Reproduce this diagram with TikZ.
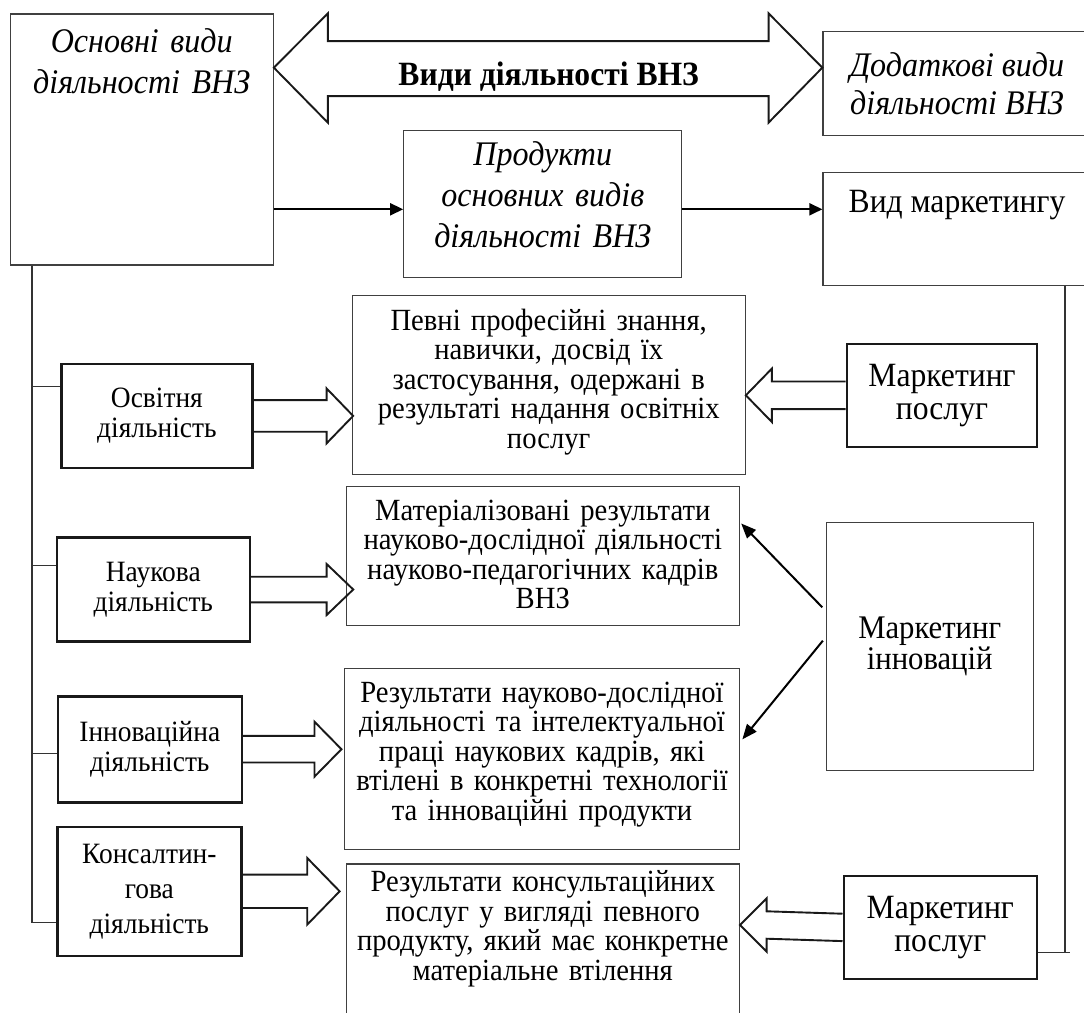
\documentclass[tikz,border=0pt]{standalone}
\usepackage{fontspec}
\setmainfont{Liberation Serif}[FakeStretch=0.93]
\usetikzlibrary{arrows.meta,calc,positioning}

\tikzset{
  box/.style={draw=black!75, line width=1.3pt, inner sep=0pt, align=center},
  thickbox/.style={draw=black!90, line width=2.6pt, inner sep=0pt, align=center,
    font=\fontsize{29.5}{30}\selectfont},
  mbox/.style={thickbox, font=\fontsize{34}{33}\selectfont},
  ital/.style={font=\itshape\fontsize{34.5}{41}\selectfont, align=center, inner sep=0pt},
  desc/.style={font=\fontsize{30.8}{29.5}\selectfont, align=center, anchor=base,
    inner sep=0pt, text width=385pt},
  conn/.style={line width=2pt, -{Triangle[length=13pt,width=12pt]}},
  fatline/.style={draw=black!90, line width=1.9pt, line join=miter},
  thin/.style={draw=black!80, line width=1.3pt}
}

% block arrow: start, tip, shaft half, head half, head base offset
\newcommand{\fatarrow}[5]{%
  \draw[fatline] ($(#1)+(0,-#3)$) -- ($(#2)+(#5,-#3)$) -- ($(#2)+(#5,-#4)$) -- (#2)
    -- ($(#2)+(#5,#4)$) -- ($(#2)+(#5,#3)$) -- ($(#1)+(0,#3)$);}

\begin{document}
\begin{tikzpicture}[x=1pt, y=-1pt]
\path[use as bounding box] (0,0) rectangle (1084,1012);
\clip (0,0) rectangle (1084,1012);

% top row
\node[box, minimum width=263pt, minimum height=251pt] (main) at (141.7,139.5) {};
\node[ital, text width=255pt, anchor=base] (maintxt) at ($(main.north)+(0,39)$) {Основні види\\діяльності ВНЗ};
\node[box, minimum width=268pt, minimum height=104pt, font=\itshape\fontsize{34.5}{38}\selectfont] (dod) at (957,83.7) {Додаткові види\\діяльності ВНЗ};
\node[box, minimum width=278pt, minimum height=147pt] (prod) at (542.8,204) {};
\node[ital, text width=270pt, anchor=base] (prodtxt) at ($(prod.north)+(0,36)$) {Продукти\\основних видів\\діяльності ВНЗ};
\node[box, minimum width=268pt, minimum height=113pt] (vid) at (957,228.7) {};
\node[font=\fontsize{34}{38}\selectfont, anchor=base, inner sep=0pt] (vidtxt) at ($(vid.north)+(0,40.7)$) {Вид маркетингу};

% double arrow
\coordinate (ltip) at ($(main.north east)+(0,54.3)$);
\coordinate (rtip) at ($(dod.north west)+(0,36.6)$);
\draw[fatline] (ltip) -- ($(ltip)+(54,-54.3)$) -- ($(ltip)+(54,-26.6)$)
  -- ($(rtip)+(-53.8,-26.6)$) -- ($(rtip)+(-53.8,-54.3)$) -- (rtip)
  -- ($(rtip)+(-53.8,55)$) -- ($(rtip)+(-53.8,28.4)$)
  -- ($(ltip)+(54,28.4)$) -- ($(ltip)+(54,55)$) -- cycle;
\node[font=\bfseries\fontsize{34}{36}\selectfont, anchor=base] (kinds) at (548.7,85) {Види діяльності ВНЗ};

\coordinate (prodin) at ($(prod.west)+(0,5.3)$);
\draw[conn] (main.east |- prodin) -- (prodin);
\draw[conn] (prod.east |- prodin) -- (vid.west |- prodin);

% products
\node[box, minimum width=393pt, minimum height=179pt] (pev) at (548.7,384.7) {};
\node[desc] (pevtxt) at ($(pev.north)+(0,35.7)$) {Певні професійні знання,\\навички, досвід їх\\застосування, одержані в\\результаті надання освітніх\\послуг};
\node[box, minimum width=393pt, minimum height=139pt] (mat) at (542.8,556.3) {};
\node[desc] (mattxt) at ($(mat.north)+(0,34.3)$) {Матеріалізовані результати\\науково-дослідної діяльності\\науково-педагогічних кадрів\\ВНЗ};
\node[box, minimum width=395pt, minimum height=181pt] (innres) at (542,758.8) {};
\node[desc] (innrestxt) at ($(innres.north)+(0,34.7)$) {Результати науково-дослідної\\діяльності та інтелектуальної\\праці наукових кадрів, які\\втілені в конкретні технології\\та інноваційні продукти};
\node[box, minimum width=393pt, minimum height=176pt] (konsres) at (542.8,952) {};
\node[desc] (konsrestxt) at ($(konsres.north)+(0,28.4)$) {Результати консультаційних\\послуг у вигляді певного\\продукту, який має конкретне\\матеріальне втілення};

% kinds of activity
\node[thickbox, minimum width=191pt, minimum height=104pt] (osv) at (156.9,415.9) {Освітня\\діяльність};
\node[thickbox, minimum width=193pt, minimum height=104pt] (nauk) at (153.3,589.5) {Наукова\\діяльність};
\node[thickbox, minimum width=184pt, minimum height=106pt] (inn) at (149.8,749.2) {Інноваційна\\діяльність};
\node[thickbox, minimum width=184pt, minimum height=129pt, font=\fontsize{29.5}{35}\selectfont] (kons) at (149.3,891.3) {Консалтин-\\гова\\діяльність};

\coordinate (trunk) at ($(main.south west)+(22.4,0)$);
\draw[thin] (trunk) |- ($(kons.west)+(0,31.4)$);
\draw[thin] (trunk |- 0,386.7) -- (osv.west |- 0,386.7);
\draw[thin] (trunk |- 0,565.3) -- (nauk.west |- 0,565.3);
\draw[thin] (trunk |- 0,753.3) -- (inn.west |- 0,753.3);

\coordinate (t1) at ($(pev.west |- osv.east)+(1.6,0)$);
\fatarrow{osv.east}{t1}{15.8}{27.5}{-26.6}
\coordinate (t2) at ($(mat.west |- nauk.east)+(7.6,0)$);
\fatarrow{nauk.east}{t2}{12.8}{25.5}{-26.6}
\coordinate (t3) at ($(innres.west |- inn.east)+(-2.4,0)$);
\fatarrow{inn.east}{t3}{13.3}{27.5}{-27}
\coordinate (t4) at ($(konsres.west |- kons.east)+(-6,0)$);
\fatarrow{kons.east}{t4}{16.7}{33.3}{-32.4}

% marketing
\node[mbox, minimum width=190pt, minimum height=103pt] (mp1) at (942,395.3) {Маркетинг\\послуг};
\node[box, minimum width=207pt, minimum height=248pt, font=\fontsize{33}{31}\selectfont] (mi) at (929.7,646.7) {Маркетинг\\інновацій};
\node[mbox, minimum width=193pt, minimum height=103pt] (mp2) at (940.3,927.4) {Маркетинг\\послуг};

\coordinate (t5) at (pev.east |- mp1.west);
\fatarrow{mp1.west}{t5}{13.8}{26.7}{26}
\coordinate (t6) at (konsres.east |- 0,925);
\fatarrow{mp2.west}{t6}{13.7}{26.7}{26.7}

\draw[conn, -{Triangle[length=15pt,width=12pt]}] ($(mi.west)+(-3.3,-39.4)$) -- ($(mat.north east)+(1.2,37.3)$);
\draw[conn, -{Triangle[length=15pt,width=12pt]}] ($(mi.west)+(-2.7,-6)$) -- ($(innres.north east)+(2.2,71.7)$);

\coordinate (rline) at ($(vid.south west)+(242.7,0)$);
\draw[thin] (rline) -- ($(rline |- mp2.east)+(0,25)$);
\draw[thin] ($(mp2.east)+(0,25)$) -- +(32,0);
\end{tikzpicture}
\end{document}
